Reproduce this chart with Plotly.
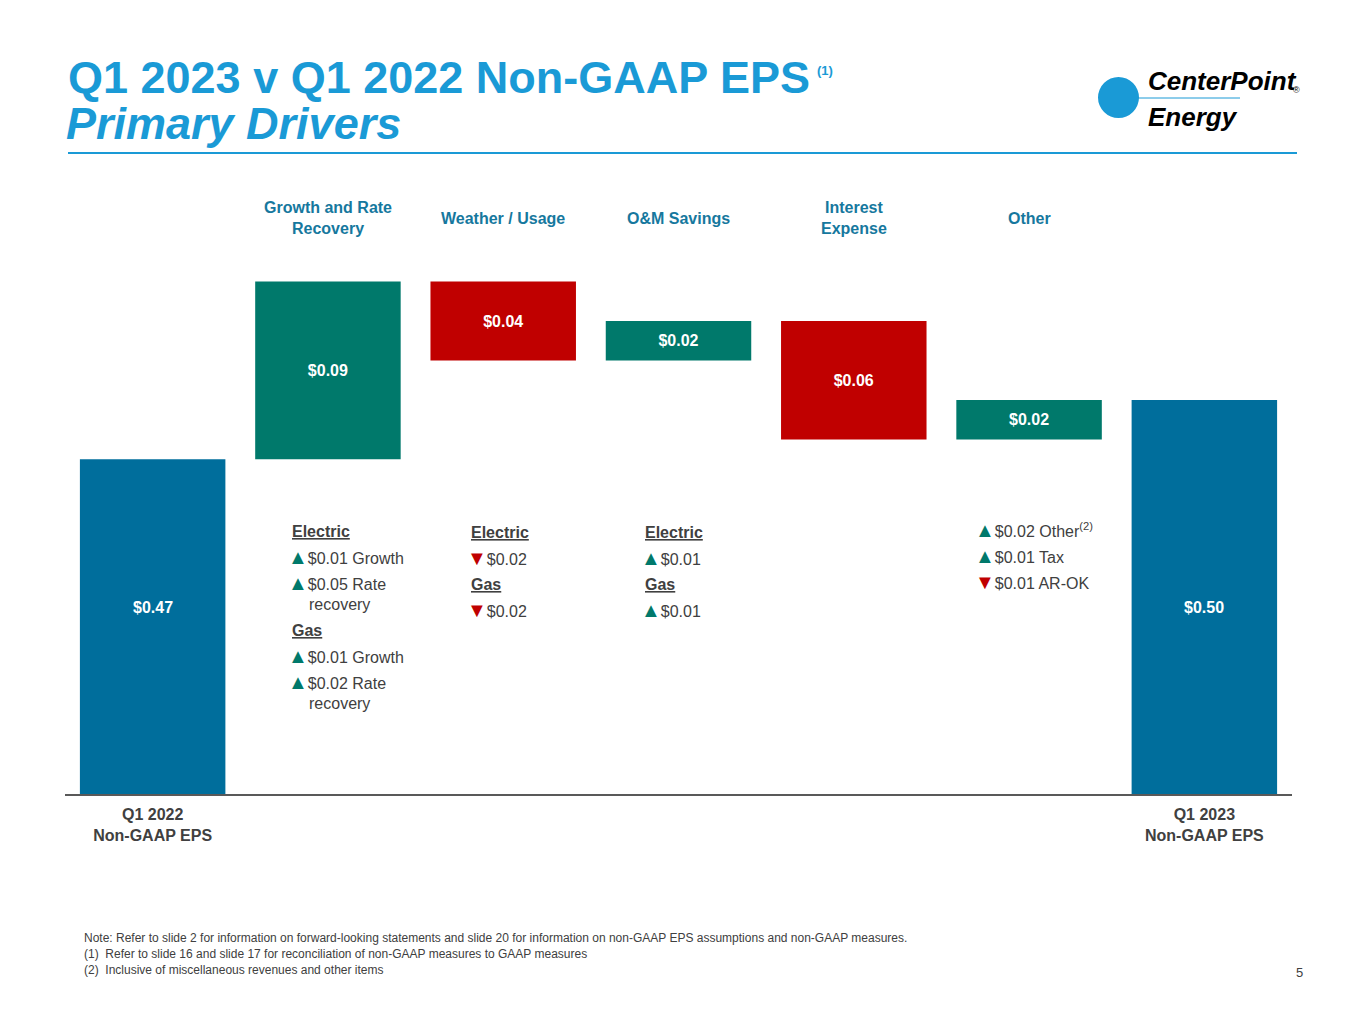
import plotly.graph_objects as go

# ---- data ----
categories = ["Q1 2022 Non-GAAP EPS", "Growth and Rate Recovery", "Weather / Usage",
              "O&M Savings", "Interest Expense", "Other", "Q1 2023 Non-GAAP EPS"]
measures = ["absolute", "relative", "relative", "relative", "relative", "relative", "total"]
values = [0.47, 0.09, -0.04, 0.02, -0.06, 0.02, 0]
bar_labels = ["", "$0.09", "$0.04", "$0.02", "$0.06", "$0.02", ""]
total_labels = {"Q1 2022 Non-GAAP EPS": "$0.47", "Q1 2023 Non-GAAP EPS": "$0.50"}
top_labels = ["", "Growth and Rate<br>Recovery", "Weather / Usage", "O&M Savings",
              "Interest<br>Expense", "Other", ""]
bottom_ticks = ["Q1 2022<br>Non-GAAP EPS", "Q1 2023<br>Non-GAAP EPS"]

UP = '<span style="color:#00796B;font-size:20px">▲</span>'
DN = '<span style="color:#C00000;font-size:20px">▼</span>'
# (text, indent, pixel row)
drivers_growth = [("<u><b>Electric</b></u>", 0, 531), (UP + "$0.01 Growth", -4, 557),
                  (UP + "$0.05 Rate", -4, 583), ("recovery", 17, 604),
                  ("<u><b>Gas</b></u>", 0, 630), (UP + "$0.01 Growth", -4, 656),
                  (UP + "$0.02 Rate", -4, 682), ("recovery", 17, 703)]
drivers_weather = [("<u><b>Electric</b></u>", 0, 532), (DN + "$0.02", -4, 558),
                   ("<u><b>Gas</b></u>", 0, 584), (DN + "$0.02", -4, 610)]
drivers_om = [("<u><b>Electric</b></u>", 0, 532), (UP + "$0.01", -4, 558),
              ("<u><b>Gas</b></u>", 0, 584), (UP + "$0.01", -4, 610)]
drivers_other = [(UP + "$0.02 Other<sup>(2)</sup>", -4, 530), (UP + "$0.01 Tax", -4, 556),
                 (DN + "$0.01 AR-OK", -4, 582)]

notes = ["Note: Refer to slide 2 for information on forward-looking statements and slide 20 for information on non-GAAP EPS assumptions and non-GAAP measures.",
         "(1)  Refer to slide 16 and slide 17 for reconciliation of non-GAAP measures to GAAP measures",
         "(2)  Inclusive of miscellaneous revenues and other items"]

TEAL = "#00796B"
RED = "#C00000"
BLUE = "#006E9C"
TITLE_BLUE = "#1A9AD6"
CAT_BLUE = "#16789E"
GRAY = "#404040"
FONT = "Liberation Sans, Arial, sans-serif"

W, H = 1365, 1024
O = 8  # page body margin offset
AX_L, AX_R, AX_T, AX_B = 65, 1292, 163, 795   # plot area in page pixels
ML = AX_L - O
MT = AX_T - O
MR = W - (AX_R - O)
MB = H - (AX_B - O)
PW = AX_R - AX_L
PH = AX_B - AX_T


def py(p):
    return (AX_B - p) / PH


def cx(p):
    return (p - AX_L) / PW


fig = go.Figure(go.Waterfall(
    x=categories, y=values, measure=measures,
    text=["<b>" + t + "</b>" if t else "" for t in bar_labels],
    textposition="inside", insidetextanchor="middle",
    textfont=dict(family=FONT, size=16, color="white"),
    increasing=dict(marker=dict(color=TEAL)),
    decreasing=dict(marker=dict(color=RED)),
    totals=dict(marker=dict(color=BLUE)),
    connector=dict(visible=False),
    hoverinfo="skip",
))

ann = []
for c, lab in zip(categories, top_labels):
    if lab:
        ann.append(dict(x=c, y=py(218), xref="x", yref="paper", text="<b>" + lab + "</b>",
                        showarrow=False, font=dict(family=FONT, size=16, color=CAT_BLUE),
                        xanchor="center", yanchor="middle"))
for c, lab in total_labels.items():
    ann.append(dict(x=c, y=py(607), xref="x", yref="paper", text="<b>" + lab + "</b>",
                    showarrow=False, font=dict(family=FONT, size=16, color="white"),
                    xanchor="center", yanchor="middle"))

for cat, items, shift in [(categories[1], drivers_growth, -38), (categories[2], drivers_weather, -34),
                          (categories[3], drivers_om, -36), (categories[5], drivers_other, -52)]:
    for txt, ind, row in items:
        ann.append(dict(x=cat, y=py(row), xref="x", yref="paper", text=txt, showarrow=False,
                        xanchor="left", yanchor="middle", xshift=shift + ind, align="left",
                        font=dict(family=FONT, size=16, color=GRAY)))


def page_text(x, y, text, size, color, family=FONT, xanchor="left"):
    ann.append(dict(x=cx(x), y=py(y), xref="paper", yref="paper", xanchor=xanchor, yanchor="middle",
                    text=text, showarrow=False, font=dict(family=family, size=size, color=color)))


# title
page_text(66, 78, "<b>Q1 2023 v Q1 2022 Non-GAAP EPS</b>", 45, TITLE_BLUE)
page_text(815, 70, "<b>(1)</b>", 13, TITLE_BLUE)
page_text(64, 124, "<b><i>Primary Drivers</i></b>", 45, TITLE_BLUE)
# logo text
page_text(1146, 81, "<b><i>CenterPoint</i></b>", 26, "black")
page_text(1146, 117, "<b><i>Energy</i></b>", 26, "black")
page_text(1296, 90, "®", 9, "black", xanchor="center")
# notes
for i, n in enumerate(notes):
    page_text(82, 938 + 16 * i, n, 12, GRAY)
page_text(1305, 972, "5", 13, GRAY, xanchor="right")

shapes = [
    dict(type="line", xref="paper", yref="paper", x0=0, x1=1, y0=0, y1=0,
         line=dict(color="#595959", width=2)),
    dict(type="line", xref="paper", yref="paper", x0=cx(68), x1=cx(1297), y0=py(153), y1=py(153),
         line=dict(color=TITLE_BLUE, width=2)),
    dict(type="circle", xref="paper", yref="paper", x0=cx(1098), x1=cx(1139), y0=py(118), y1=py(77),
         fillcolor=TITLE_BLUE, line=dict(width=0)),
    dict(type="line", xref="paper", yref="paper", x0=cx(1118), x1=cx(1240), y0=py(98), y1=py(98),
         line=dict(color=TITLE_BLUE, width=1)),
]

fig.update_layout(
    width=W, height=H,
    margin=dict(l=ML, r=MR, t=MT, b=MB, pad=0),
    plot_bgcolor="white", paper_bgcolor="white",
    showlegend=False,
    waterfallgap=0.17,
    font=dict(family=FONT),
    xaxis=dict(type="category", categoryorder="array", categoryarray=categories,
               tickmode="array", tickvals=[categories[0], categories[-1]],
               ticktext=["<b>" + t + "</b>" for t in bottom_ticks],
               tickfont=dict(family=FONT, size=16, color=GRAY), showgrid=False, zeroline=False,
               showline=False, ticks="", ticklen=0, ticklabelstandoff=8, fixedrange=True),
    yaxis=dict(range=[0.30, 0.30 + PH / 1975.0], visible=False, fixedrange=True),
    annotations=ann,
    shapes=shapes,
)

fig.write_html("out.html")
